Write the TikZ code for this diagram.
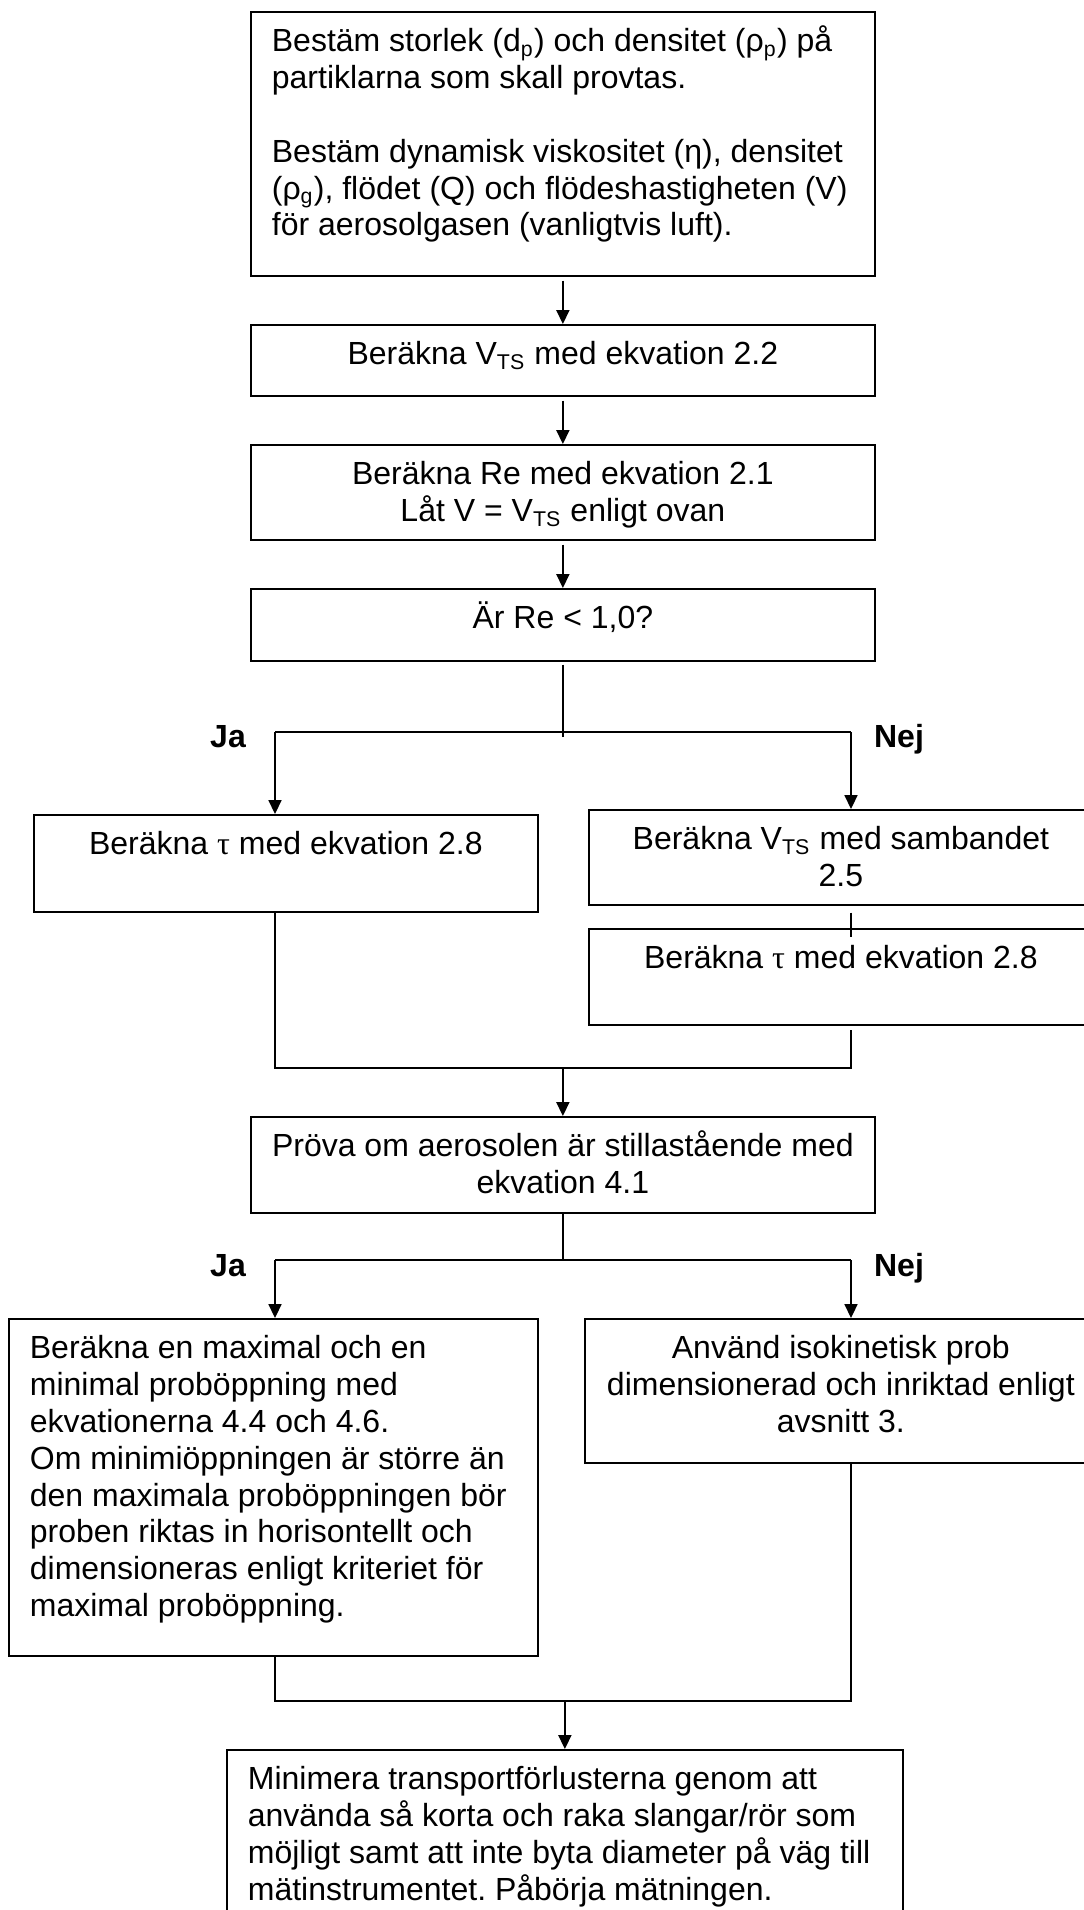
\documentclass[tikz,border=0pt]{standalone}
\usepackage{fontspec}
\setmainfont{Liberation Sans}
\newfontfamily\taufont{Liberation Serif}
\usepackage{tikz}
\usetikzlibrary{arrows.meta}
\frenchspacing

\newdimen\pxu
\pxu=0.375pt
\newcommand{\boxtxt}[4]{\parbox[t][#2][t]{#1}{#3\rule{0pt}{40\pxu}#4}}

\begin{document}
\begin{tikzpicture}[x=0.375pt,y=-0.375pt]
\tikzset{flow/.style={draw,line width=0.65pt,anchor=north west,inner xsep=7.875pt,inner ysep=0pt,font=\fontsize{12}{13.8}\selectfont},
  conn/.style={line width=0.5pt},
  arr/.style={conn,-{Triangle[length=5.2pt,width=4.9pt]}},
  svar/.style={anchor=base,font=\fontsize{12}{13.8}\selectfont\bfseries}}
\useasboundingbox (0,0) rectangle (1083,1910);

\node (bestam) [flow] at (250,11) {\boxtxt{582\pxu}{264\pxu}{\raggedright}{Bestäm storlek (d\textsubscript{p}) och densitet (ρ\textsubscript{p}) på\\partiklarna som skall provtas.\\[13.8pt]Bestäm dynamisk viskositet (η), densitet\\(ρ\textsubscript{g}), flödet (Q) och flödeshastigheten (V)\\för aerosolgasen (vanligtvis luft).}};
\node (vts) [flow] at (250,324) {\boxtxt{582\pxu}{71\pxu}{\centering}{Beräkna V\textsubscript{TS} med ekvation 2.2}};
\node (re) [flow] at (250,444) {\boxtxt{582\pxu}{95\pxu}{\centering}{Beräkna Re med ekvation 2.1\\Låt V = V\textsubscript{TS} enligt ovan}};
\node (retest) [flow] at (250,588) {\boxtxt{582\pxu}{72\pxu}{\centering}{Är Re < 1,0?}};
\node (tauja) [flow] at (33,814) {\boxtxt{462\pxu}{97\pxu}{\centering}{Beräkna {\taufont τ} med ekvation 2.8}};
\node (vtsnej) [flow] at (588,809) {\boxtxt{462\pxu}{95\pxu}{\centering}{Beräkna V\textsubscript{TS} med sambandet\\2.5}};
\node (taunej) [flow] at (588,928) {\boxtxt{462\pxu}{96\pxu}{\centering}{Beräkna {\taufont τ} med ekvation 2.8}};
\node (prova) [flow] at (250,1116) {\boxtxt{582\pxu}{96\pxu}{\centering}{Pröva om aerosolen är stillastående med\\ekvation 4.1}};
\node (maxmin) [flow] at (8,1318) {\boxtxt{487\pxu}{337\pxu}{\raggedright}{Beräkna en maximal och en\\minimal proböppning med\\ekvationerna 4.4 och 4.6.\\Om minimiöppningen är större än\\den maximala proböppningen bör\\proben riktas in horisontellt och\\dimensioneras enligt kriteriet för\\maximal proböppning.}};
\node (isokin) [flow] at (584,1318) {\boxtxt{470\pxu}{144\pxu}{\centering}{Använd isokinetisk prob\\dimensionerad och inriktad enligt\\avsnitt 3.}};
\node (slut) [flow] at (226,1749) {\boxtxt{634\pxu}{180\pxu}{\raggedright}{Minimera transportförlusterna genom att\\använda så korta och raka slangar/rör som\\möjligt samt att inte byta diameter på väg till\\mätinstrumentet. Påbörja mätningen.}};

\node (ja1) [svar] at (228,747) {Ja};
\node (nej1) [svar] at (899,747) {Nej};
\node (ja2) [svar] at (228,1276) {Ja};
\node (nej2) [svar] at (899,1276) {Nej};

\coordinate (d1l) at (275,732);
\coordinate (d1r) at (851,732);
\coordinate (m1l) at (275,1068);
\coordinate (m1r) at (851,1068);
\coordinate (d2l) at (275,1260);
\coordinate (d2r) at (851,1260);
\coordinate (m2l) at (275,1701);
\coordinate (m2r) at (851,1701);

\draw[arr,shorten <=1.5pt] (bestam) -- (vts);
\draw[arr,shorten <=1.5pt] (vts) -- (re);
\draw[arr,shorten <=1.5pt] (re) -- (retest);
\draw[conn] (retest.south) ++(0,3) -- ++(0,72);
\draw[conn] (d1l) -- (d1r);
\draw[arr] (d1l) -- (d1l |- tauja.north);
\draw[arr] (d1r) -- (d1r |- vtsnej.north);
\draw[conn] (vtsnej.south -| d1r) ++(0,7) -- ++(0,24);
\draw[conn] (tauja.south -| m1l) -- (m1l) -- (m1r) -- ++(0,-38);
\draw[arr] (m1l -| prova.north) -- (prova.north);
\draw[conn] (prova) -- (prova.south |- d2l);
\draw[conn] (d2l) -- (d2r);
\draw[arr] (d2l) -- (d2l |- maxmin.north);
\draw[arr] (d2r) -- (d2r |- isokin.north);
\draw[conn] (maxmin.south -| m2l) -- (m2l) -- (m2r) -- (isokin.south -| m2r);
\draw[arr] (m2l -| slut.north) -- (slut.north);

\end{tikzpicture}
\end{document}
